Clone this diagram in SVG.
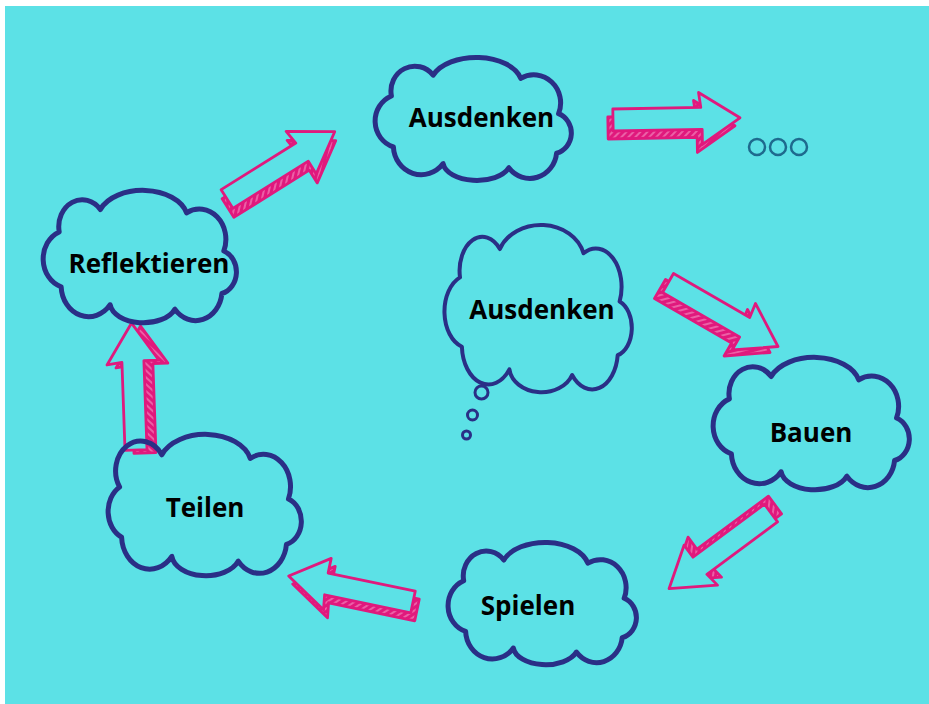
<svg xmlns="http://www.w3.org/2000/svg" xmlns:xlink="http://www.w3.org/1999/xlink" width="929" height="704" viewBox="0 0 929 704">
<style>
.cloud{fill:none;stroke:#2a2f86;stroke-width:5;stroke-linejoin:round;vector-effect:non-scaling-stroke}
.lbl{font-family:"Open Sans","Noto Sans","DejaVu Sans",sans-serif;font-weight:700;font-size:26px;fill:#000;text-anchor:middle}
.back{fill:url(#hatch);stroke:#e0197d;stroke-width:2.8;stroke-linejoin:round}
.front{fill:#5ce1e6;stroke:#e0197d;stroke-width:2.8;stroke-linejoin:round}
.dot{fill:none;stroke:#2a2f86;stroke-width:3}
.ooo{fill:none;stroke:#1e6a8e;stroke-width:2.5}
</style>
<defs>
<pattern id="hatch" width="5" height="5" patternUnits="userSpaceOnUse" patternTransform="rotate(45)">
<rect width="5" height="5" fill="#e0197d"/>
<line x1="1" y1="0" x2="1" y2="5" stroke="#f6a7cf" stroke-width="1"/>
</pattern>
<path id="arr" d="M0,-11 L88,-11 L86,-26 L127,0 L89,26 L89,11 L0,11 Z"/>
</defs>
<rect x="5" y="6" width="924" height="698" fill="#5ce1e6"/>

<g id="connectors">
<g id="a-top">
<use xlink:href="#arr" class="back" transform="translate(-5,8) translate(613,120) rotate(-1)"/>
<use xlink:href="#arr" class="front" transform="translate(613,120) rotate(-1)"/>
</g>
<g id="a-refl-ausd">
<use xlink:href="#arr" class="back" transform="translate(1,9) translate(227,199) rotate(-32)"/>
<use xlink:href="#arr" class="front" transform="translate(227,199) rotate(-32)"/>
</g>
<g id="a-ausd-bauen">
<use xlink:href="#arr" class="back" transform="translate(-8,6) translate(668,283) rotate(30)"/>
<use xlink:href="#arr" class="front" transform="translate(668,283) rotate(30)"/>
</g>
<g id="a-bauen-spielen">
<use xlink:href="#arr" class="back" transform="translate(4,-8) translate(771,513) rotate(143.4)"/>
<use xlink:href="#arr" class="front" transform="translate(771,513) rotate(143.4)"/>
</g>
<g id="a-spielen-teilen">
<use xlink:href="#arr" class="back" transform="translate(4,8) translate(413,602) rotate(191.8)"/>
<use xlink:href="#arr" class="front" transform="translate(413,602) rotate(191.8)"/>
</g>
<g id="a-teilen-refl">
<use xlink:href="#arr" class="back" transform="translate(9,3) translate(136,450) rotate(-92)"/>
<use xlink:href="#arr" class="front" transform="translate(136,450) rotate(-92)"/>
</g>
</g>

<g id="ooo">
<circle class="ooo" cx="757" cy="147" r="8"/>
<circle class="ooo" cx="778" cy="147" r="8"/>
<circle class="ooo" cx="799" cy="147" r="8"/>
</g>

<g id="n-ausdenken-top">
<path class="cloud" d="M20,45 A24,24 0 0 1 62,25 A46,26 0 0 1 150,28 A27,27 0 0 1 188,62 A20,20 0 0 1 186,100 A27,27 0 0 1 138,114 A34,18 0 0 1 72,110 A28,28 0 0 1 22,94 A26,26 0 0 1 20,45 Z" transform="translate(371.5,49.2) scale(0.995,1.04)"/>
<text class="lbl" x="481.5" y="127">Ausdenken</text>
</g>
<g id="n-reflektieren">
<path class="cloud" d="M20,45 A24,24 0 0 1 62,25 A46,26 0 0 1 150,28 A27,27 0 0 1 188,62 A20,20 0 0 1 186,100 A27,27 0 0 1 138,114 A34,18 0 0 1 72,110 A28,28 0 0 1 22,94 A26,26 0 0 1 20,45 Z" transform="translate(39.6,181.5) scale(0.98,1.12)"/>
<text class="lbl" x="149" y="273">Reflektieren</text>
</g>
<g id="n-ausdenken-center">
<path class="cloud" style="stroke-width:4" d="M20,45 A24,24 0 0 1 62,25 A46,26 0 0 1 150,28 A27,27 0 0 1 188,62 A20,20 0 0 1 186,100 A27,27 0 0 1 138,114 A34,18 0 0 1 72,110 A28,28 0 0 1 22,94 A26,26 0 0 1 20,45 Z" transform="translate(441,213.7) scale(0.95,1.415)"/>
<circle class="dot" cx="481.5" cy="392.5" r="6.5"/>
<circle class="dot" cx="472.5" cy="415" r="5"/>
<circle class="dot" cx="466.5" cy="435" r="4"/>
<text class="lbl" x="542" y="319">Ausdenken</text>
</g>
<g id="n-bauen">
<path class="cloud" d="M20,45 A24,24 0 0 1 62,25 A46,26 0 0 1 150,28 A27,27 0 0 1 188,62 A20,20 0 0 1 186,100 A27,27 0 0 1 138,114 A34,18 0 0 1 72,110 A28,28 0 0 1 22,94 A26,26 0 0 1 20,45 Z" transform="translate(709.5,348.5) scale(0.995,1.12)"/>
<text class="lbl" x="811" y="442">Bauen</text>
</g>
<g id="n-teilen">
<path class="cloud" d="M20,52 A24,24 0 0 1 62,25 A46,26 0 0 1 150,28 A27,27 0 0 1 188,62 A20,20 0 0 1 186,100 A27,27 0 0 1 138,114 A34,18 0 0 1 72,110 A28,28 0 0 1 22,94 A24,24 0 0 1 20,52 Z" transform="translate(99.5,424.9) scale(1.005,1.195)"/>
<text class="lbl" x="205" y="517">Teilen</text>
</g>
<g id="n-spielen">
<path class="cloud" d="M20,45 A24,24 0 0 1 62,25 A46,26 0 0 1 150,28 A27,27 0 0 1 188,62 A20,20 0 0 1 186,100 A27,27 0 0 1 138,114 A34,18 0 0 1 72,110 A28,28 0 0 1 22,94 A26,26 0 0 1 20,45 Z" transform="translate(444.6,534.2) scale(0.955,1.034)"/>
<text class="lbl" x="528" y="615">Spielen</text>
</g>
</svg>
